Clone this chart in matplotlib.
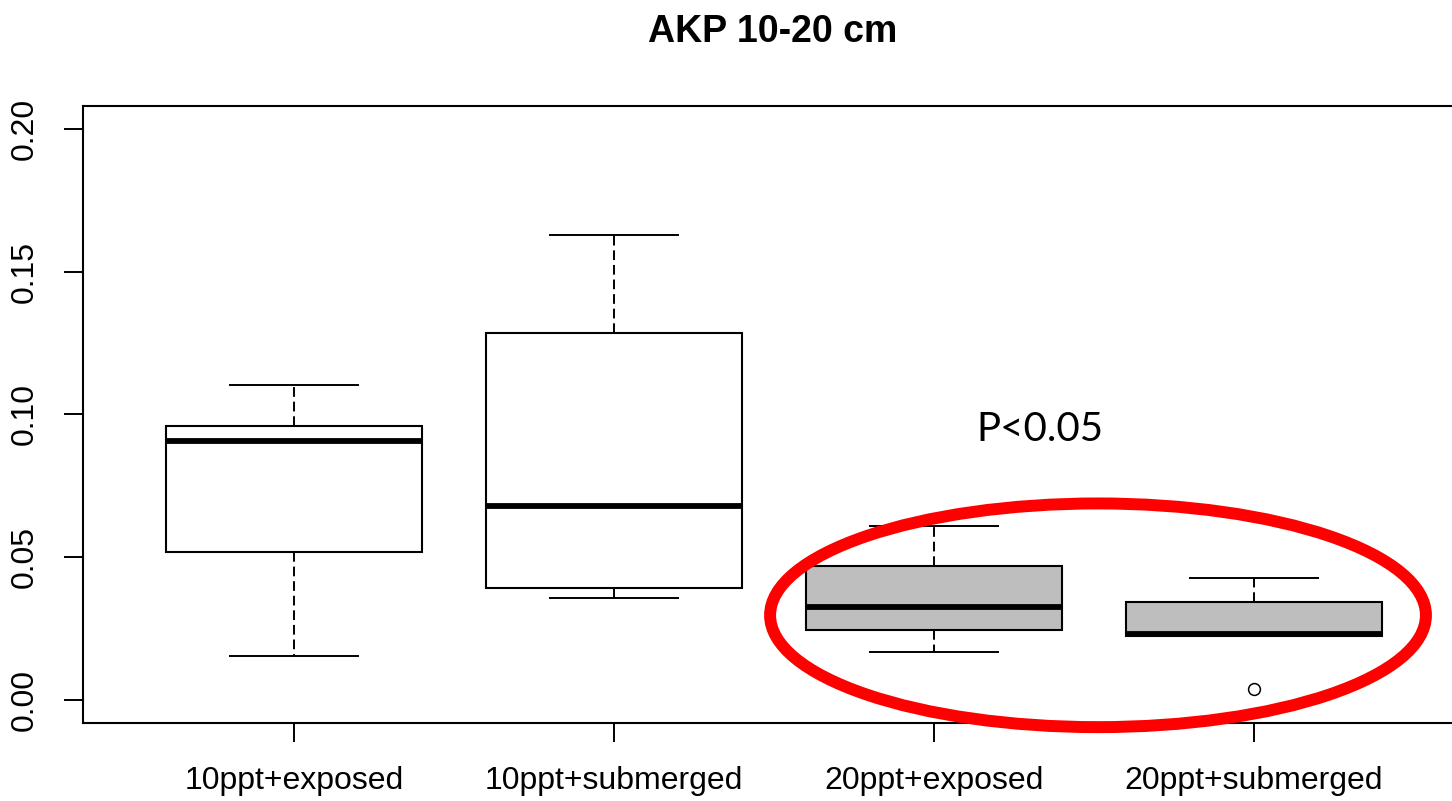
import matplotlib
matplotlib.use("Agg")
import matplotlib.pyplot as plt
from matplotlib.patches import Ellipse

# box statistics per group
groups = ["10ppt+exposed", "10ppt+submerged", "20ppt+exposed", "20ppt+submerged"]
whislo = [0.0154, 0.0357, 0.0167, 0.0224]
q1 = [0.0519, 0.0392, 0.0244, 0.0224]
med = [0.0906, 0.0680, 0.0327, 0.0230]
q3 = [0.0961, 0.1284, 0.0470, 0.0343]
whishi = [0.1102, 0.1629, 0.0610, 0.0427]
outliers = [[], [], [], [0.0039]]
box_colors = ["white", "white", "#bebebe", "#bebebe"]

yticks = [0.00, 0.05, 0.10, 0.15, 0.20]

stats = []
for i, name in enumerate(groups):
    stats.append({
        "label": name,
        "whislo": whislo[i],
        "q1": q1[i],
        "med": med[i],
        "q3": q3[i],
        "whishi": whishi[i],
        "fliers": outliers[i],
    })

fig = plt.figure(figsize=(14.52, 8.01), dpi=100)
# plot region runs off the right edge, so stop the axes at the figure edge
ax = fig.add_axes([0.0572, 0.0974, 0.9428, 0.7703])

bp = ax.bxp(
    stats,
    positions=[1, 2, 3, 4],
    widths=0.8,
    patch_artist=True,
    boxprops=dict(edgecolor="black", linewidth=1.5),
    medianprops=dict(color="black", linewidth=4.2, solid_capstyle="butt"),
    whiskerprops=dict(color="black", linewidth=1.4, linestyle=(0, (5, 2.5))),
    capprops=dict(color="black", linewidth=1.4),
    flierprops=dict(marker="o", markerfacecolor="none", markeredgecolor="black",
                    markersize=8.5, markeredgewidth=1.1),
)
for patch, c in zip(bp["boxes"], box_colors):
    patch.set_facecolor(c)

ax.set_xlim(0.34, 4.619)
ax.set_ylim(-0.008, 0.208)

ax.set_yticks(yticks)
ax.set_yticklabels(["%.2f" % v for v in yticks], rotation=90, va="center",
                   fontsize=23, family="Liberation Sans")
ax.set_xticks([1, 2, 3, 4])
ax.set_xticklabels(groups, fontsize=23, family="Liberation Sans")
ax.tick_params(axis="both", length=14, width=1.4, pad=17, colors="black")

for side in ["left", "bottom", "top"]:
    ax.spines[side].set_linewidth(1.5)
ax.spines["right"].set_visible(False)

# title
fig.text(0.532, 0.9476, "AKP 10-20 cm", ha="center", va="baseline",
         fontsize=27, fontweight="bold", family="Liberation Sans")

# significance note and red ring around the 20ppt groups
ax.text(3.33, 0.0946, "P<0.05", ha="center", va="center", fontsize=29,
        family="Lato")
ring = Ellipse((3.5125, 0.0297), width=2.05, height=0.0783, fill=False,
               edgecolor="#ff0000", linewidth=8.6, clip_on=False, zorder=10)
ax.add_patch(ring)

fig.savefig("out.png", dpi=100)
